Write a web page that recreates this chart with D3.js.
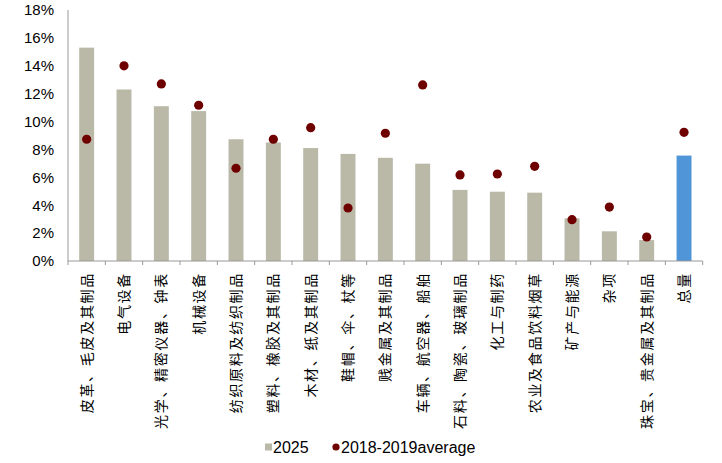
<!DOCTYPE html>
<html lang="zh">
<head>
<meta charset="utf-8">
<title>2025 vs 2018-2019</title>
<script src="https://cdn.jsdelivr.net/npm/d3@7"></script>
<style>
  body { margin: 0; background: #fff; }
  .axis path, .axis line { stroke: #999; }
  .ylab { font-family: "Liberation Sans", Arial, sans-serif; font-size: 15px; fill: #000; }
  .xlab { font-family: "Noto Sans CJK SC", sans-serif; font-size: 14px; letter-spacing: 1.7px; fill: #000; }
  .legend { font-family: "Liberation Sans", Arial, sans-serif; font-size: 16px; fill: #000; }
</style>
</head>
<body>
<script>
// 类别
var categories = ["皮革、毛皮及其制品", "电气设备", "光学、精密仪器、钟表", "机械设备",
  "纺织原料及纺织制品", "塑料、橡胶及其制品", "木材、纸及其制品", "鞋帽、伞、杖等",
  "贱金属及其制品", "车辆、航空器、船舶", "石料、陶瓷、玻璃制品", "化工与制药",
  "农业及食品饮料烟草", "矿产与能源", "杂项", "珠宝、贵金属及其制品", "总量"];
// 2025 (%)
var v2025 = [15.3, 12.3, 11.1, 10.75, 8.73, 8.5, 8.1, 7.68, 7.4, 6.98, 5.1, 4.97, 4.9, 3.06, 2.13, 1.5, 7.56];
// 2018-2019 平均 (%)
var vAvg = [8.73, 14.0, 12.7, 11.17, 6.65, 8.73, 9.56, 3.8, 9.16, 12.63, 6.17, 6.24, 6.79, 2.96, 3.87, 1.72, 9.23];
var yTicks = [0, 2, 4, 6, 8, 10, 12, 14, 16, 18];

var W = 722, H = 463;
var svg = d3.select("body").append("svg").attr("width", W).attr("height", H);

var x = d3.scaleBand().domain(categories).range([68, 702.7]).paddingInner(0.6).paddingOuter(0.3);
var y = d3.scaleLinear().domain([0, 18]).range([261, 10]);

// 柱子
svg.selectAll(".bar").data(categories).enter().append("rect")
  .attr("x", function(d) { return x(d); })
  .attr("width", x.bandwidth())
  .attr("y", function(d, i) { return y(v2025[i]); })
  .attr("height", function(d, i) { return y(0) - y(v2025[i]); })
  .attr("fill", function(d, i) { return i == categories.length - 1 ? "#4F95D8" : "#BAB8A6"; });

// 点
svg.selectAll(".dot").data(categories).enter().append("circle")
  .attr("cx", function(d) { return x(d) + x.bandwidth() / 2; })
  .attr("cy", function(d, i) { return y(vAvg[i]); })
  .attr("r", 4.6)
  .attr("fill", "#6E0000");

// y轴
var yAxis = svg.append("g").attr("class", "axis").attr("transform", "translate(68,0)")
  .call(d3.axisLeft(y).tickValues(yTicks).tickSize(0).tickPadding(14).tickFormat(function(d) { return d + "%"; }));
yAxis.select(".domain").attr("d", "M0," + y(18) + "V" + y(0));
yAxis.selectAll("text").attr("class", "ylab").attr("font-family", null).attr("font-size", null);

// x轴 (刻度在类别边界)
var step = x.step();
var xa = svg.append("g").attr("class", "axis");
xa.append("line").attr("x1", 68).attr("x2", 702.7).attr("y1", y(0)).attr("y2", y(0));
var bounds = d3.range(categories.length + 1).map(function(i) { return 68 + i * step; });
xa.selectAll(".tk").data(bounds).enter().append("line")
  .attr("x1", function(d) { return d; }).attr("x2", function(d) { return d; })
  .attr("y1", y(0)).attr("y2", y(0) + 4);

// 类别标签，旋转
svg.selectAll(".xlab").data(categories).enter().append("text")
  .attr("class", "xlab")
  .attr("text-anchor", "end")
  .attr("dy", "0.36em")
  .attr("transform", function(d) {
    return "translate(" + (x(d) + x.bandwidth() / 2) + ",272) rotate(-90)";
  })
  .text(function(d) { return d; });

// 图例
var lg = svg.append("g").attr("class", "legend");
lg.append("rect").attr("x", 265).attr("y", 443.5).attr("width", 7).attr("height", 7).attr("fill", "#BAB8A6");
lg.append("text").attr("x", 273).attr("y", 447).attr("dy", "0.36em").text("2025");
lg.append("circle").attr("cx", 336).attr("cy", 447).attr("r", 3.6).attr("fill", "#6E0000");
lg.append("text").attr("x", 341).attr("y", 447).attr("dy", "0.36em").text("2018-2019average");
</script>
</body>
</html>
